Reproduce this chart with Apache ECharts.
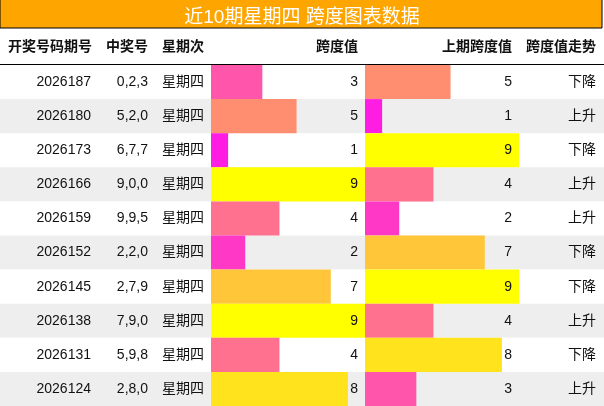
<!DOCTYPE html>
<html>
<head>
<meta charset="utf-8">
<script src="https://cdn.jsdelivr.net/npm/echarts@6/dist/echarts.min.js"></script>
<style>
    html,body{margin:0;padding:0;background:#fff;}
    #main{width:604px;height:406px;}
</style>
</head>
<body>
<div id="main"></div>
<script>
// 近10期星期四 跨度数据
var periods = ['2026187','2026180','2026173','2026166','2026159','2026152','2026145','2026138','2026131','2026124'];
var numbers = ['0,2,3','5,2,0','6,7,7','9,0,0','9,9,5','2,2,0','2,7,9','7,9,0','5,9,8','2,8,0'];
var weekdays = ['星期四','星期四','星期四','星期四','星期四','星期四','星期四','星期四','星期四','星期四'];
var span = [3,5,1,9,4,2,7,9,4,8];
var prevSpan = [5,1,9,4,2,7,9,4,8,3];
var trend = ['下降','上升','下降','上升','上升','下降','下降','上升','下降','上升'];
var headers = ['开奖号码期号','中奖号','星期次','跨度值','上期跨度值','跨度值走势'];

var FONT = "'Liberation Sans', 'Noto Sans CJK SC', sans-serif";
var chart = echarts.init(document.getElementById('main'));

function textAxis(grid, data, pos, offset, margin, align){
    return {
        type:'category', gridIndex:grid, data:data, inverse:true, position:pos, offset:offset, z:10,
        axisLine:{show:false}, axisTick:{show:false}, splitLine:{show:false},
        axisLabel:{margin:margin, align:align, color:'#111', fontSize:14, fontFamily:FONT}
    };
}
function hiddenX(grid, max){
    return {type:'value', gridIndex:grid, min:0, max:max, show:false};
}

// header texts, right aligned at column edges
var headerX = [92,148,204,358,512,596];
var graphic = [
    {type:'rect', shape:{x:0, y:-1, width:602, height:29}, style:{fill:'#FFA500', stroke:'#000', lineWidth:1}, z:0},
    {type:'line', shape:{x1:0, y1:64.5, x2:604, y2:64.5}, style:{stroke:'#000', lineWidth:1}, z:5}
];
headers.forEach(function(h, i){
    graphic.push({type:'text', x:headerX[i], y:47, z:5,
        style:{text:h, textAlign:'right', textVerticalAlign:'middle', fill:'#111',
               font:'bold 14px ' + FONT}});
});

var option = {
    animation:false,
    title:{text:'近10期星期四 跨度图表数据', left:'center', top:3,
        textStyle:{color:'#fff', fontSize:19, fontWeight:'normal', fontFamily:FONT}},
    graphic:graphic,
    grid:[
        {left:0, right:0, top:65, height:341},
        {left:211, width:154, top:65, height:341},
        {left:365, width:154, top:65, height:341}
    ],
    xAxis:[hiddenX(0, 1), hiddenX(1, 9), hiddenX(2, 9)],
    yAxis:[
        {type:'category', gridIndex:0, data:periods, inverse:true, z:0,
         axisLine:{show:false}, axisTick:{show:false}, axisLabel:{show:false}, splitLine:{show:false},
         splitArea:{show:true, areaStyle:{color:['#FFFFFF','#EEEEEE']}}},
        textAxis(1, weekdays, 'left', 0, 7, 'right'),
        textAxis(1, numbers, 'left', 56, 7, 'right'),
        textAxis(1, periods, 'left', 113, 7, 'right'),
        textAxis(1, span.map(String), 'right', 0, -7, 'right'),
        textAxis(2, prevSpan.map(String), 'right', 0, -7, 'right'),
        textAxis(2, trend, 'right', 77, 0, 'right')
    ],
    visualMap:{type:'continuous', show:false, min:0, max:9, dimension:0, seriesIndex:[0,1],
        inRange:{color:['#FF00FF','#FFFF00']}},
    series:[
        {name:'跨度值', type:'bar', xAxisIndex:1, yAxisIndex:1, data:span, barWidth:'100%'},
        {name:'上期跨度值', type:'bar', xAxisIndex:2, yAxisIndex:5, data:prevSpan, barWidth:'100%'}
    ]
};
chart.setOption(option);
</script>
</body>
</html>
